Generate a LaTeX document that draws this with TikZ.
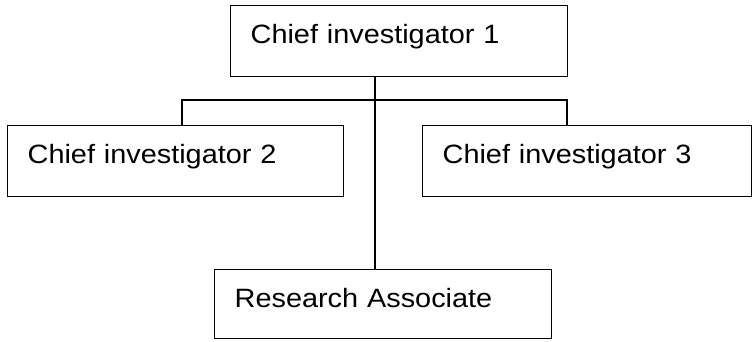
\documentclass[tikz,border=0pt]{standalone}
\usepackage{fontspec}
\setmainfont{Liberation Sans}[FakeStretch=1.09]
\begin{document}
\begin{tikzpicture}[x=1pt,y=1pt,
  box/.style={draw, line width=1.3pt, rectangle, anchor=north west, inner xsep=20pt, inner ysep=0pt,
    text height=37.5pt, text depth=33.5pt, align=left,
    font=\fontsize{26.5}{30}\selectfont},
  conn/.style={line width=1.3pt}]
\useasboundingbox (0,0) rectangle (752,-341);
\node[box, text width=297pt] (b1) at (230,-5) {Chief investigator 1};
\node[box, text width=296pt] (b2) at (7,-125) {Chief investigator 2};
\node[box, text width=289pt] (b3) at (422,-125) {Chief investigator 3};
\node[box, text width=297pt, text depth=31.5pt] (ra) at (214,-269) {Research Associate};
\coordinate (j) at (375,-100);
\coordinate (hl) at (182,-100);
\coordinate (hr) at (567,-100);
\draw[conn] (b1.south -| j) -- (ra.north -| j);
\draw[conn] (b2.north -| hl) -- (hl) -- (hr) -- (b3.north -| hr);
\end{tikzpicture}
\end{document}
